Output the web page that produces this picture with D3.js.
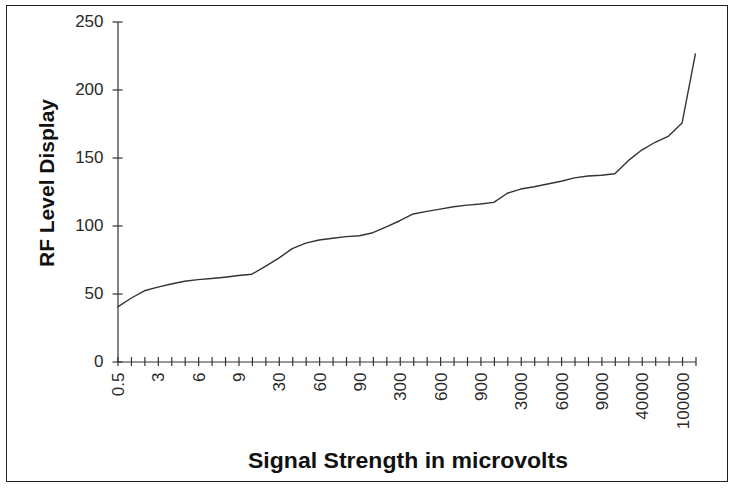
<!DOCTYPE html>
<html>
<head>
<meta charset="utf-8">
<script src="https://cdn.jsdelivr.net/npm/d3@7"></script>
<style>
  html, body { margin: 0; padding: 0; background: #fff; }
  svg { display: block; }
</style>
</head>
<body>
<svg id="chart" width="733" height="488"></svg>
<script>
const categories = ["0.5","1","2","3","4","5","6","7","8","9",
  "10","20","30","40","50","60","70","80","90",
  "100","200","300","400","500","600","700","800","900",
  "1000","2000","3000","4000","5000","6000","7000","8000","9000",
  "10000","20000","40000","60000","80000","100000","200000"];
const rfLevel = [40,46.5,52,54.7,57,59,60.2,61,62,63.2,
  64.2,70,76,83,87,89.3,90.6,91.8,92.5,
  94.7,99,103.5,108.5,110.4,112,113.8,115,115.8,
  117,123.7,126.8,128.5,130.5,132.5,135,136.4,137,
  138,147.7,155.5,161.2,165.8,175.3,226.5];
const yTicks = [0,50,100,150,200,250];
const xTitle = "Signal Strength in microvolts";
const yTitle = "RF Level Display";

const svg = d3.select("#chart");
const font = "'Liberation Sans', Arial, sans-serif";

svg.append("rect").attr("x",6.5).attr("y",5.5).attr("width",721).attr("height",476)
  .attr("fill","#fff").attr("stroke","#222").attr("stroke-width",1);

const x = d3.scalePoint().domain(categories).range([117.5, 695.5]);
const y = d3.scaleLinear().domain([0,250]).range([361.5, 21.5]);

// Y axis
const gy = svg.append("g").attr("transform","translate(117.5,0)")
  .call(d3.axisLeft(y).tickValues(yTicks).tickSizeOuter(0).tickSizeInner(5).tickPadding(9));
gy.select(".domain").attr("stroke","#333").attr("stroke-width",1.2);
gy.selectAll(".tick line").attr("x1",-5).attr("x2",5).attr("stroke","#333").attr("stroke-width",1.2);
gy.selectAll(".tick text").attr("font-family",font).attr("font-size",17).attr("fill","#2a2a2a");

// X axis
const gx = svg.append("g").attr("transform","translate(0,361.5)")
  .call(d3.axisBottom(x).tickSizeOuter(0).tickSizeInner(0)
    .tickFormat((d,i)=> i%3===0 ? d : ""));
gx.select(".domain").attr("stroke","#333").attr("stroke-width",1.2);
gx.selectAll(".tick line").attr("y1",-4.5).attr("y2",4.5).attr("stroke","#333").attr("stroke-width",1.2);
gx.selectAll(".tick text")
  .attr("font-family",font).attr("font-size",17).attr("fill","#2a2a2a")
  .attr("text-anchor","end")
  .attr("transform","translate(0,11) rotate(-90)")
  .attr("x",0).attr("y",0).attr("dy","0.36em");

// Line
const line = d3.line().x((d,i)=>x(categories[i])).y(d=>y(d));
svg.append("path").datum(rfLevel).attr("d",line)
  .attr("fill","none").attr("stroke","#333").attr("stroke-width",1.4)
  .attr("stroke-linejoin","round");

// Titles
svg.append("text").attr("x",408).attr("y",468).attr("text-anchor","middle")
  .attr("font-family",font).attr("font-weight","bold").attr("font-size",22).attr("fill","#111")
  .attr("textLength",320).attr("lengthAdjust","spacingAndGlyphs")
  .text(xTitle);
svg.append("text").attr("transform","translate(54,183) rotate(-90)").attr("text-anchor","middle")
  .attr("font-family",font).attr("font-weight","bold").attr("font-size",21).attr("fill","#111")
  .text(yTitle);
</script>
</body>
</html>
